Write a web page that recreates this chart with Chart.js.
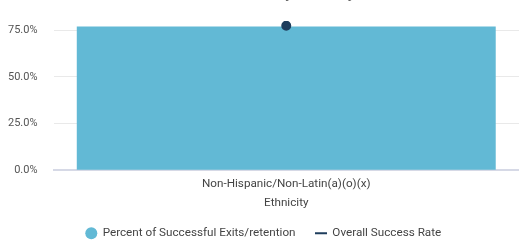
<!DOCTYPE html>
<html>
<head>
<meta charset="utf-8">
<script src="https://cdn.jsdelivr.net/npm/chart.js@4.4.0/dist/chart.umd.min.js"></script>
<style>
  html, body { margin: 0; padding: 0; background: #fff; }
  #wrap { position: relative; width: 519px; height: 243px; overflow: hidden; }
  #holder { position: absolute; left: -8px; top: -22px; width: 533px; height: 271px; }
</style>
</head>
<body>
<div id="wrap">
  <div id="holder"><canvas id="chart"></canvas></div>
</div>
<script>
const categories = ['Non-Hispanic/Non-Latin(a)(o)(x)'];
const successPercent = [0.771];
const overallRate = [0.775];
const yTicks = [0, 0.25, 0.5, 0.75];

const tickFont = { family: 'Roboto', size: 11 };
const textFont = { family: 'Roboto', size: 11.7 };

// nudge the legend a little to the right, like the original
const legendShift = {
  id: 'legendShift',
  afterLayout(chart) {
    chart.legend.left += 5;
    chart.legend.right += 5;
  }
};

new Chart(document.getElementById('chart'), {
  type: 'bar',
  data: {
    labels: categories,
    datasets: [{
      type: 'line',
      label: 'Overall Success Rate',
      data: overallRate,
      borderColor: '#1e3d5c',
      backgroundColor: '#1e3d5c',
      pointRadius: 4,
      pointHoverRadius: 4,
      borderWidth: 2,
      pointStyle: 'circle',
      order: 0
    }, {
      label: 'Percent of Successful Exits/retention',
      data: successPercent,
      backgroundColor: '#62b9d5',
      borderWidth: 0,
      barPercentage: 0.9,
      categoryPercentage: 1,
      order: 1
    }]
  },
  options: {
    responsive: true,
    maintainAspectRatio: false,
    animation: false,
    layout: { padding: 0 },
    plugins: {
      title: {
        display: true,
        text: 'Successful Exits by Ethnicity',
        color: '#666',
        font: { family: 'Roboto', size: 15 },
        padding: { top: 7, bottom: 18 }
      },
      legend: {
        position: 'bottom',
        reverse: true,
        labels: {
          usePointStyle: true,
          color: '#444',
          font: textFont,
          boxWidth: 11,
          boxHeight: 8.5,
          padding: 20,
          generateLabels: function (chart) {
            const items = Chart.defaults.plugins.legend.labels.generateLabels(chart);
            items.forEach(item => {
              if (item.text === 'Overall Success Rate') {
                item.pointStyle = 'line';
                item.strokeStyle = '#1e3d5c';
                item.lineWidth = 2;
              } else {
                item.pointStyle = 'circle';
              }
            });
            return items;
          }
        }
      },
      tooltip: { enabled: false }
    },
    scales: {
      x: {
        grid: { display: false },
        border: { display: true, color: '#d6d9e6', width: 2 },
        ticks: { color: '#444', font: textFont, padding: -1 },
        title: { display: true, text: 'Ethnicity', color: '#444', font: textFont, padding: { top: 6, bottom: -3 } }
      },
      y: {
        min: 0,
        max: 0.8,
        afterBuildTicks: function (scale) {
          scale.ticks = yTicks.map(v => ({ value: v }));
        },
        grid: { color: '#e9e9e9', drawTicks: false },
        border: { display: false },
        ticks: {
          color: '#555',
          font: tickFont,
          padding: 16,
          callback: v => (v * 100).toFixed(1) + '%'
        }
      }
    }
  },
  plugins: [legendShift]
});
</script>
</body>
</html>
